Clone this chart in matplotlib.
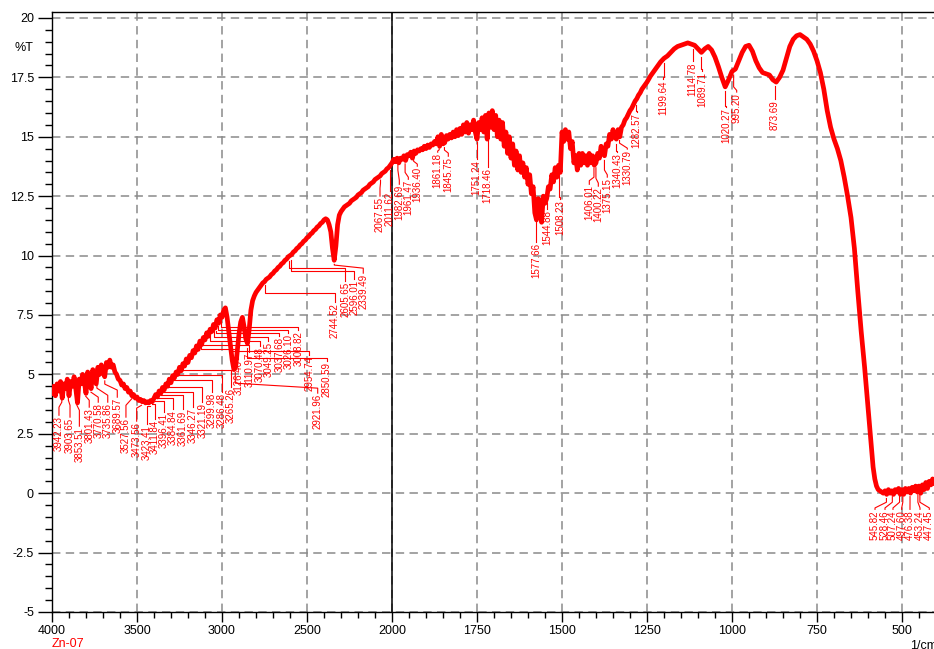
import numpy as np
import matplotlib
matplotlib.use('Agg')
import matplotlib.pyplot as plt
from matplotlib.ticker import FixedLocator, FuncFormatter

plt.rcParams['font.family'] = ['Liberation Sans', 'DejaVu Sans']
plt.rcParams['axes.unicode_minus'] = False

# spectrum (%T), in pieces
wn_a = np.arange(4000, 2999, -10)
t_a = [4.2, 4.5, 4.1, 4.6, 4.3, 4.7, 4.0, 4.6, 4.4, 4.8,
       4.1, 4.7, 4.5, 4.9, 4.4, 3.8, 4.8, 4.6, 5.0, 4.7,
       4.2, 5.1, 4.8, 4.4, 5.2, 4.9, 4.6, 5.3, 5.0, 5.4,
       5.1, 4.9, 5.5, 5.3, 5.6, 5.3, 5.4, 5.1, 5.0, 4.8,
       4.75, 4.55, 4.6, 4.4, 4.45, 4.25, 4.3, 4.1, 4.15, 4.0,
       4.05, 3.9, 3.95, 3.85, 3.9, 3.8, 3.85, 3.8, 3.9, 3.85,
       4.0, 4.15, 4.05, 4.3, 4.2, 4.45, 4.35, 4.6, 4.5, 4.8,
       4.65, 4.95, 4.85, 5.1, 5.0, 5.3, 5.15, 5.45, 5.35, 5.65,
       5.5, 5.8, 5.7, 6.0, 5.9, 6.2, 6.05, 6.4, 6.25, 6.55,
       6.45, 6.75, 6.6, 6.9, 6.8, 7.1, 6.95, 7.3, 7.15, 7.5,
       7.4]

wn_b = np.arange(2990, 2009, -10)
t_b = [7.7, 7.8, 7.4, 6.8, 6.2, 5.6, 5.2, 5.3, 6.0, 6.7,
       7.2, 7.4, 7.0, 6.5, 6.3, 6.9, 7.7, 8.1, 8.3, 8.45,
       8.55, 8.65, 8.75, 8.85, 8.9, 9.0, 9.05, 9.1, 9.2, 9.25,
       9.35, 9.4, 9.5, 9.55, 9.65, 9.7, 9.8, 9.85, 9.95, 10.0,
       10.05, 10.15, 10.2, 10.3, 10.35, 10.45, 10.5, 10.6, 10.65, 10.75,
       10.8, 10.9, 10.95, 11.05, 11.1, 11.2, 11.25, 11.35, 11.4, 11.5,
       11.55, 11.5, 11.3, 11.0, 10.3, 9.8, 10.4, 11.3, 11.7, 11.85,
       11.95, 12.05, 12.1, 12.15, 12.2, 12.3, 12.35, 12.4, 12.45, 12.55,
       12.6, 12.65, 12.75, 12.8, 12.85, 12.9, 13.0, 13.05, 13.1, 13.2,
       13.25, 13.3, 13.35, 13.45, 13.5, 13.55, 13.65, 13.7, 13.8]

wn_c = np.arange(2000, 1254, -5)
t_c = [13.9, 14.05, 13.95, 14.1, 13.9, 14.1, 14.05, 14.2, 14.0, 14.25,
       14.2, 14.35, 14.1, 14.4, 14.3, 14.45, 14.4, 14.5, 14.45, 14.6,
       14.5, 14.65, 14.55, 14.7, 14.65, 14.8, 14.7, 15.0, 14.6, 15.1,
       14.7, 14.75, 15.05, 14.9, 15.1, 14.95, 15.2, 15.0, 15.3, 15.05,
       15.35, 15.1, 15.5, 15.2, 15.6, 15.15, 15.5, 15.3, 15.7, 15.2,
       14.9, 15.6, 15.3, 15.8, 15.2, 15.9, 14.9, 16.0, 15.4, 16.1,
       15.3, 15.9, 15.0, 15.7, 14.9, 15.6, 14.6, 15.2, 14.3, 15.0,
       14.1, 14.7, 13.8, 14.4, 13.6, 14.2, 13.5, 13.9, 13.3, 13.7,
       13.0, 13.4, 12.6, 12.9, 11.8, 11.5, 12.4, 12.3, 11.4, 12.5,
       12.2, 12.4, 12.9, 12.8, 13.4, 13.1, 13.7, 13.3, 13.8, 13.5,
       15.2, 14.8, 15.3, 14.9, 15.2, 14.5, 14.8, 13.9, 14.2, 13.6,
       14.3, 13.8, 14.3, 13.9, 14.2, 13.8, 14.3, 13.9, 14.2, 13.8,
       13.9, 14.3, 14.1, 14.6, 14.3, 14.2, 14.7, 14.6, 15.1, 14.9,
       15.3, 15.0, 14.9, 15.3, 15.0, 15.4, 15.5, 15.7, 15.8, 15.95,
       16.1, 16.2, 16.35, 16.5, 16.6, 16.75, 16.85, 17.0, 17.1, 17.2]

wn_d = np.arange(1250, 599, -10)
t_d = [17.3, 17.55, 17.75, 17.95, 18.15, 18.3, 18.4, 18.55, 18.7, 18.8,
       18.85, 18.9, 18.95, 18.9, 18.85, 18.7, 18.55, 18.7, 18.8, 18.65,
       18.35, 17.95, 17.5, 17.1, 17.4, 17.75, 17.85, 18.2, 18.55, 18.8,
       18.85, 18.6, 18.2, 17.9, 17.7, 17.65, 17.6, 17.4, 17.3, 17.5,
       17.8, 18.3, 18.8, 19.1, 19.25, 19.3, 19.2, 19.1, 18.9, 18.6,
       18.2, 17.7, 17.0, 16.1, 15.4, 14.9, 14.5, 14.0, 13.3, 12.5,
       11.6, 10.3, 8.5, 6.8, 5.3, 3.6]

wn_e = np.arange(595, 399, -5)
t_e = [2.8, 1.9, 1.1, 0.6, 0.3, 0.15, 0.1, 0.05, 0.0, 0.1,
       -0.05, 0.15, 0.0, 0.1, -0.05, 0.15, 0.05, 0.2, -0.05, 0.15,
       -0.05, 0.2, 0.05, 0.2, 0.0, 0.25, 0.1, 0.3, 0.05, 0.3,
       0.0, 0.35, 0.15, 0.45, 0.2, 0.5, 0.35, 0.6, 0.4, 0.55]

wavenumber = np.concatenate([wn_a, wn_b, wn_c, wn_d, wn_e]).astype(float)
transmittance = np.concatenate([t_a, t_b, t_c, t_d, t_e])

# picked peaks
peak_wn = [3942.23, 3903.65, 3853.51, 3801.43, 3770.58, 3735.86, 3689.57,
           3527.56, 3473.56, 3423.41, 3411.84, 3396.41, 3384.84, 3361.69,
           3346.27, 3321.19, 3299.98, 3286.48, 3265.26,
           3126.40, 3110.97, 3070.48, 3049.25, 3037.68, 3026.10, 3008.82,
           2954.74, 2921.96, 2850.59,
           2744.52, 2605.65, 2596.01, 2339.49,
           2067.55, 2011.62, 1982.69, 1961.47, 1936.40, 1861.18, 1845.75,
           1751.24, 1718.46,
           1577.66, 1544.88, 1508.23, 1406.01, 1400.22, 1375.15, 1340.43,
           1330.79, 1282.57,
           1199.64, 1114.78, 1089.71, 1020.27, 995.20, 873.69,
           545.82, 528.46, 507.24, 497.60, 476.38, 453.24, 447.45]

# label placement: (text x, elbow y at peak, elbow y at text, text top)
label_pos = [(3959, 3.83, 3.62, 3.24), (3894, 3.91, 3.70, 3.16),
             (3839, 3.70, 3.49, 2.78), (3781, 4.08, 3.91, 3.58),
             (3728, 4.25, 4.04, 3.79), (3672, 4.42, 4.12, 3.79),
             (3616, 4.59, 4.34, 4.00), (3565, 4.00, 3.70, 3.16),
             (3502, 3.70, 3.58, 2.99), (3443, 3.66, 3.66, 2.86),
             (3394, 3.75, 3.75, 3.07), (3341, 3.87, 3.87, 3.37),
             (3290, 4.00, 4.00, 3.49), (3231, 4.12, 4.12, 3.49),
             (3172, 4.25, 4.25, 3.58), (3116, 4.46, 4.46, 3.79),
             (3061, 4.76, 4.76, 4.21), (3002, 4.97, 4.97, 4.21),
             (2949, 5.18, 5.18, 4.42),
             (2904, 6.06, 6.06, 5.60), (2839, 6.23, 6.23, 5.89),
             (2776, 6.40, 6.40, 6.14), (2728, 6.57, 6.57, 6.36),
             (2663, 6.73, 6.73, 6.57), (2610, 6.86, 6.86, 6.69),
             (2551, 6.99, 6.99, 6.82), (2486, 5.98, 5.98, 5.77),
             (2437, 4.63, 4.42, 4.17), (2384, 5.68, 5.68, 5.51),
             (2335, 8.42, 8.42, 8.00), (2276, 9.47, 9.47, 8.88),
             (2222, 9.34, 9.34, 8.96), (2169, 9.60, 9.47, 9.22),
             (2070.6, 13.05, 12.84, 12.46), (2011.8, 13.0, 13.0, 12.67),
             (1978.5, 13.59, 13.17, 12.96), (1952, 13.5, 13.3, 13.17),
             (1925.6, 13.97, 13.85, 13.72), (1865.6, 14.45, 14.40, 14.31),
             (1834.4, 14.44, 14.31, 14.14),
             (1750.9, 14.1, 14.1, 14.02), (1718.5, 13.75, 13.75, 13.68),
             (1576.5, 10.6, 10.6, 10.52), (1543.2, 12.0, 12.0, 11.91),
             (1505.9, 12.45, 12.45, 12.33), (1419.7, 13.3, 13.15, 12.96),
             (1393.2, 13.25, 13.05, 12.88), (1366.8, 13.6, 13.4, 13.26),
             (1337.4, 14.4, 14.4, 14.31), (1307.9, 14.73, 14.52, 14.44),
             (1280.3, 16.1, 16.1, 15.99),
             (1202, 17.5, 17.5, 17.38), (1115.6, 18.25, 18.25, 18.14),
             (1087.4, 17.85, 17.85, 17.72), (1017.6, 16.3, 16.3, 16.2),
             (986.2, 17.1, 16.95, 16.84), (873.5, 16.6, 16.6, 16.54),
             (579.4, -0.38, -0.62, -0.72), (550, -0.38, -0.62, -0.72),
             (526.5, -0.38, -0.62, -0.72), (500.9, -0.38, -0.62, -0.72),
             (476.5, -0.38, -0.62, -0.72), (447, -0.38, -0.62, -0.72),
             (419.7, -0.38, -0.62, -0.72)]

x_major = [4000, 3500, 3000, 2500, 2000, 1750, 1500, 1250, 1000, 750, 500]
y_major = [-5, -2.5, 0, 2.5, 5, 7.5, 10, 12.5, 15, 17.5, 20]


# FTIR style axis: range above 2000 is drawn at half scale
def fwd(x):
    x = np.asarray(x, dtype=float)
    return np.where(x > 2000, 2000 + (x - 2000) / 2, x)


def inv(t):
    t = np.asarray(t, dtype=float)
    return np.where(t > 2000, 2000 + (t - 2000) * 2, t)


fig = plt.figure(figsize=(9.34, 6.49), dpi=100)
ax = fig.add_axes([52 / 934, 37 / 649, 884 / 934, 600 / 649])
ax.set_xscale('function', functions=(fwd, inv))
ax.set_xlim(4000, 400)
ax.set_ylim(-5, 20.25)

x_minor = [v for v in list(range(3900, 2000, -100)) + list(range(1950, 400, -50))
           if v not in x_major]
ax.xaxis.set_major_locator(FixedLocator(x_major))
ax.xaxis.set_minor_locator(FixedLocator(x_minor))
ax.xaxis.set_major_formatter(FuncFormatter(lambda v, p: f'{int(round(v))}'))
ax.yaxis.set_major_locator(FixedLocator(y_major))
ax.yaxis.set_minor_locator(FixedLocator(np.arange(-5, 20.1, 0.5)))
ax.yaxis.set_major_formatter(FuncFormatter(lambda v, p: f'{v:g}'))

ax.grid(True, which='major', color='#8a8a8a', linestyle=(0, (5.5, 3.5)), linewidth=1.1)
ax.axvline(2000, color='black', lw=1.1, zorder=2)

ax.tick_params(axis='y', which='major', direction='out', length=10, width=1,
               labelsize=9, pad=3)
ax.tick_params(axis='y', which='minor', direction='out', length=5, width=1)
ax.tick_params(axis='x', which='major', direction='out', length=7, width=1,
               labelsize=9, pad=2)
ax.tick_params(axis='x', which='minor', direction='out', length=4, width=1)
for side in ['left', 'bottom', 'top']:
    ax.spines[side].set_linewidth(1)
ax.spines['right'].set_visible(False)

ax.plot(wavenumber, transmittance, color='#ff0000', lw=3.4,
        solid_joinstyle='round', zorder=3)

# peak markers with leader lines
xs = wavenumber[::-1]
ys = transmittance[::-1]
for p, (tx, e1, e2, top) in zip(peak_wn, label_pos):
    y0 = max(np.interp(p, xs, ys) - 0.2, e1)
    ax.plot([p, p, tx, tx], [y0, e1, e2, top + 0.04], color='#ff0000',
            lw=0.8, zorder=4)
    ax.text(tx, top, f'{p:.2f}', rotation=90, ha='center', va='top',
            fontsize=7, color='#ff0000', zorder=5)

fig.text(24 / 934, 1 - 48 / 649, '%T', ha='center', va='center', fontsize=9)
fig.text(68 / 934, 1 - 638 / 649, 'Zn-07', ha='center', va='top', fontsize=9,
         color='#ff0000')
fig.text(910 / 934, 1 - 640 / 649, '1/cm', ha='left', va='top', fontsize=9)

fig.savefig('out.png', dpi=100)
